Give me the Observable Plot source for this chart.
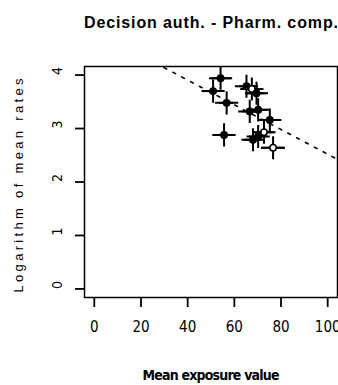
<!DOCTYPE html>
<html>
<head>
<meta charset="utf-8">
<script src="https://cdn.jsdelivr.net/npm/d3@7"></script>
<script src="https://cdn.jsdelivr.net/npm/@observablehq/plot@0.6"></script>
<style>
  html, body { margin: 0; padding: 0; background: #fff; }
</style>
</head>
<body>
<div id="chart"></div>
<script>
const title = "Decision auth. - Pharm. comp.";
const xLabel = "Mean exposure value";
const yLabel = "Logarithm of mean rates";
const xTicks = [0, 20, 40, 60, 80, 100];
const yTicks = [0, 1, 2, 3, 4];

// mean exposure value (point estimate) and horizontal interval
const exposure = [54.1, 50.9, 56.7, 55.6, 65.2, 67.5, 69.5, 66.6, 70.2, 75.2, 72.7, 68.0, 70.2, 76.6];
const lower    = [50.2, 46.5, 53.8, 50.9, 62.3, 64.5, 65.3, 63.6, 66.6, 71.8, 68.8, 64.5, 66.5, 71.6];
const upper    = [58.8, 53.8, 59.8, 60.2, 69.2, 70.5, 73.8, 71.8, 74.3, 78.6, 77.3, 71.8, 73.5, 81.9];
// logarithm of mean rates
const logRate  = [3.94, 3.70, 3.48, 2.88, 3.79, 3.74, 3.66, 3.32, 3.35, 3.16, 2.93, 2.79, 2.85, 2.64];
const filled   = [true, true, true, true, true, false, true, true, true, true, false, true, true, false];

// fitted line (abline): intercept and slope
const intercept = 4.83;
const slope = -0.0231;
const xDomain = [-4.2, 104.2];
const yDomain = [-0.16, 4.16];

const points = exposure.map((x, i) => ({x, y: logRate[i], lo: lower[i], hi: upper[i], filled: filled[i]}));
const fit = xDomain.map(x => ({x, y: intercept + slope * x}));

const narrow = "'DejaVu Sans Condensed', 'Liberation Sans Narrow', sans-serif";
const sans = "'Liberation Sans', Arial, sans-serif";

const chart = Plot.plot({
  width: 338,
  height: 385,
  marginTop: 66,
  marginBottom: 88,
  marginLeft: 84,
  marginRight: 1,
  style: {fontFamily: narrow, color: "#000", background: "#fff"},
  x: {domain: xDomain, label: null},
  y: {domain: yDomain, label: null},
  marks: [
    Plot.frame({stroke: "#000", strokeWidth: 1.5}),
    Plot.axisX({ticks: xTicks, tickSize: 10, tickPadding: 14, fontSize: 15, strokeWidth: 1.8, label: null, fontFamily: narrow}),
    Plot.axisY({ticks: yTicks, tickSize: 9, tickFormat: () => "", strokeWidth: 1.8, label: null}),
    Plot.text(yTicks, {y: d => d, text: d => String(d), frameAnchor: "left", dx: -27, rotate: -90, fontSize: 14, fontFamily: narrow}),
    Plot.line(fit, {x: "x", y: "y", stroke: "#000", strokeWidth: 1.6, strokeDasharray: "3,7", clip: true}),
    Plot.ruleY(points, {y: "y", x1: "lo", x2: "hi", stroke: "#000", strokeWidth: 2}),
    Plot.dot(points, {x: "x", y: "y", symbol: "plus", r: 7.5, stroke: "#000", strokeWidth: 2}),
    Plot.dot(points, {x: "x", y: "y", r: 3.2, fill: d => d.filled ? "#000" : "#fff", stroke: "#000", strokeWidth: 1.5}),
    Plot.text([title], {text: d => d, frameAnchor: "top", dy: -44, lineAnchor: "middle", fontSize: 16, fontWeight: "bold", fontFamily: sans}),
    Plot.text([xLabel], {text: d => d, frameAnchor: "bottom", dy: 78, lineAnchor: "middle", fontSize: 14, fontWeight: "bold", fontFamily: narrow}),
    Plot.text([yLabel], {text: d => d, frameAnchor: "bottom-left", dx: -62, dy: -5, rotate: -90, textAnchor: "start", fontSize: 13, fontFamily: sans})
  ]
});
document.getElementById("chart").appendChild(chart);

// stretch spacing of the wide-set labels to the reference's text lengths
const lengths = new Map([[title, 254], [xLabel, 137], [yLabel, 214]]);
d3.select(chart).selectAll("text").each(function () {
  const t = this.textContent;
  if (lengths.has(t)) {
    d3.select(this).attr("textLength", lengths.get(t)).attr("lengthAdjust", "spacing");
  }
});
</script>
</body>
</html>
